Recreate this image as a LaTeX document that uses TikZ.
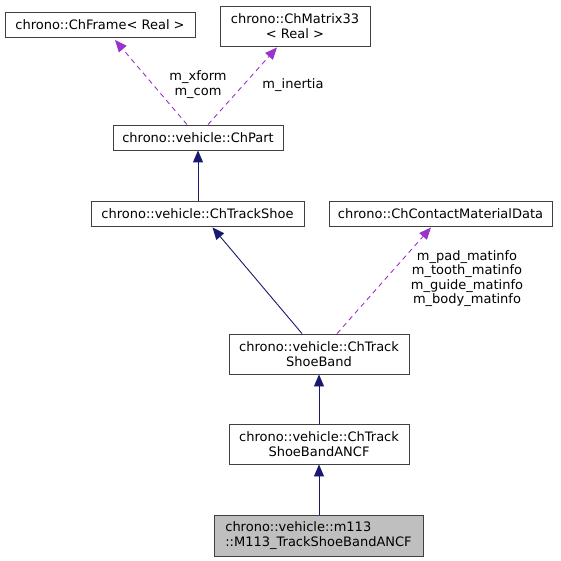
\documentclass[tikz,border=0pt]{standalone}
\usepackage{fontspec}
\setmainfont{DejaVu Sans}
\usetikzlibrary{arrows.meta,calc}
\definecolor{edgeblue}{HTML}{191970}
\definecolor{edgepurple}{HTML}{9A32CD}
\definecolor{boxline}{HTML}{404040}
\begin{document}
\begin{tikzpicture}[x=1pt,y=-1pt,
  every node/.style={font=\fontsize{13}{14.4}\selectfont, inner sep=0pt},
  cls/.style={draw=boxline, line width=0.9pt, fill=white, align=center},
  inh/.style={draw=edgeblue, line width=0.9pt, -{Triangle[length=12pt,width=10pt]}},
  use/.style={draw=edgepurple, line width=0.9pt, dash pattern=on 5pt off 4pt, -{Triangle[length=12pt,width=10pt]}},
  lbl/.style={align=center}]
\useasboundingbox (0,0) rectangle (561,561);
\node[cls, minimum width=190pt, minimum height=25pt] (frame) at (100,25) {chrono::ChFrame< Real >};
\node[cls, minimum width=150pt, minimum height=40pt] (mat) at (295,26) {chrono::ChMatrix33\\< Real >};
\node[cls, minimum width=170pt, minimum height=25pt] (part) at (198,137.5) {chrono::vehicle::ChPart};
\node[cls, minimum width=213pt, minimum height=25pt] (shoe) at (197.5,213.5) {chrono::vehicle::ChTrackShoe};
\node[cls, minimum width=223pt, minimum height=25pt] (cmd) at (440.5,213.5) {chrono::ChContactMaterialData};
\node[cls, minimum width=180pt, minimum height=40pt] (band) at (319,354) {chrono::vehicle::ChTrack\\ShoeBand};
\node[cls, minimum width=180pt, minimum height=40pt] (ancf) at (319,444) {chrono::vehicle::ChTrack\\ShoeBandANCF};
\node[cls, fill={rgb,255:red,191;green,191;blue,191}, minimum width=209pt, minimum height=41pt, align=left] (m113) at (318.5,535.5) {chrono::vehicle::m113\\::M113\_TrackShoeBandANCF};

\draw[use] ([xshift=-11pt]part.north) -- ($(frame.south)+(15,2)$);
\draw[use] ([xshift=10pt]part.north) -- ($(mat.south)+(-18,1)$);
\draw[inh] (shoe.north -| part.south) -- (part.south);
\draw[inh] ([xshift=-17pt]band.north) -- ($(shoe.south)+(15,1)$);
\draw[use] ([xshift=18pt]band.north) -- ($(cmd.south)+(-9.5,1)$);
\draw[inh] (ancf.north -| band.south) -- (band.south);
\draw[inh] (m113.north -| ancf.south) -- (ancf.south);

\node[lbl] (l1) at (198,84.5) {m\_xform\\m\_com};
\node[lbl] (l2) at (293,85) {m\_inertia};
\node[lbl] (l3) at (467,278.5) {m\_pad\_matinfo\\m\_tooth\_matinfo\\m\_guide\_matinfo\\m\_body\_matinfo};
\end{tikzpicture}
\end{document}
